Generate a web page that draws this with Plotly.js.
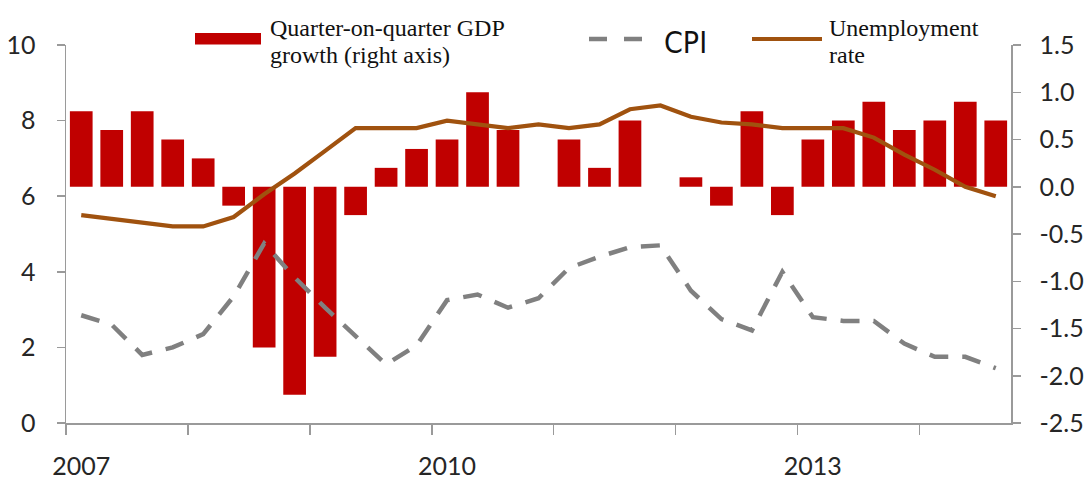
<!DOCTYPE html>
<html>
<head>
<meta charset="utf-8">
<script src="https://cdn.plot.ly/plotly-3.0.1.min.js"></script>
<style>
html,body{margin:0;padding:0;background:#ffffff;}
#chart{width:1088px;height:480px;}
</style>
</head>
<body>
<div id="chart"></div>
<script>
// ---------------- data ----------------
const quarters = [
  '2007Q1','2007Q2','2007Q3','2007Q4',
  '2008Q1','2008Q2','2008Q3','2008Q4',
  '2009Q1','2009Q2','2009Q3','2009Q4',
  '2010Q1','2010Q2','2010Q3','2010Q4',
  '2011Q1','2011Q2','2011Q3','2011Q4',
  '2012Q1','2012Q2','2012Q3','2012Q4',
  '2013Q1','2013Q2','2013Q3','2013Q4',
  '2014Q1','2014Q2','2014Q3'
];
// quarter-on-quarter GDP growth, % (right axis)
const gdpGrowth = [
  0.8, 0.6, 0.8, 0.5,
  0.3, -0.2, -1.7, -2.2,
  -1.8, -0.3, 0.2, 0.4,
  0.5, 1.0, 0.6, 0.0,
  0.5, 0.2, 0.7, 0.0,
  0.1, -0.2, 0.8, -0.3,
  0.5, 0.7, 0.9, 0.6,
  0.7, 0.9, 0.7
];
// CPI, % (left axis)
const cpi = [
  2.85, 2.6, 1.8, 2.0,
  2.35, 3.35, 4.75, 3.85,
  3.05, 2.3, 1.55, 2.05,
  3.25, 3.4, 3.05, 3.3,
  4.1, 4.4, 4.65, 4.7,
  3.5, 2.75, 2.45, 4.0,
  2.8, 2.7, 2.7, 2.1,
  1.75, 1.75, 1.45
];
// Unemployment rate, % (left axis)
const unemployment = [
  5.5, 5.4, 5.3, 5.2,
  5.2, 5.45, 6.05, 6.6,
  7.2, 7.8, 7.8, 7.8,
  8.0, 7.9, 7.8, 7.9,
  7.8, 7.9, 8.3, 8.4,
  8.1, 7.95, 7.9, 7.8,
  7.8, 7.8, 7.55, 7.1,
  6.7, 6.25, 6.0
];
const yearLabels = ['2007', '2010', '2013'];
const leftTickLabels = ['0', '2', '4', '6', '8', '10'];
const rightTickLabels = ['-2.5', '-2.0', '-1.5', '-1.0', '-0.5', '0.0', '0.5', '1.0', '1.5'];
const legendGdp = ['Quarter-on-quarter GDP', 'growth (right axis)'];
const legendCpi = ['CPI'];
const legendUnemp = ['Unemployment', 'rate'];

// ---------------- derived positions ----------------
const xIdx = quarters.map((q, i) => i);
const yearTickVals = yearLabels.map(y => quarters.indexOf(y + 'Q1'));
const yearBoundaries = quarters
  .map((q, i) => (q.endsWith('Q1') ? i - 0.5 : null))
  .filter(v => v !== null);

// plot-area pixel box (for legend placement)
const W = 1088, H = 480;
const PL = 66, PR = 1011, PT = 45, PB = 423;
const px = v => (v - PL) / (PR - PL);
const py = v => (PB - v) / (PB - PT);

const axisColor = '#9a9a9a';
const tickFont = {family: 'Lato, "Open Sans", sans-serif', size: 25, color: '#262626'};
const serif = '"Liberation Serif", "Times New Roman", serif';
const narrow = '"Liberation Sans Narrow", "DejaVu Sans Condensed", "Arial Narrow", sans-serif';

const traces = [
  {
    type: 'bar', name: legendGdp.join(' '),
    x: xIdx, y: gdpGrowth, xaxis: 'x', yaxis: 'y',
    marker: {color: '#C00000', line: {width: 0}},
    hovertext: quarters, hoverinfo: 'text+y', textposition: 'none'
  },
  {
    type: 'scatter', mode: 'lines', name: legendCpi.join(' '),
    x: xIdx, y: cpi, xaxis: 'x', yaxis: 'y2',
    line: {color: '#808080', width: 4.5, dash: '19px,14px'},
    hovertext: quarters, hoverinfo: 'text+y'
  },
  {
    type: 'scatter', mode: 'lines', name: legendUnemp.join(' '),
    x: xIdx, y: unemployment, xaxis: 'x', yaxis: 'y2',
    line: {color: '#A0520F', width: 4.2},
    hovertext: quarters, hoverinfo: 'text+y'
  }
];

const layout = {
  width: W, height: H,
  margin: {l: PL, r: W - PR, t: PT, b: H - PB, pad: 0},
  paper_bgcolor: '#ffffff', plot_bgcolor: '#ffffff',
  showlegend: false,
  bargap: 0.255,
  xaxis: {
    type: 'linear', range: [-0.5, quarters.length - 0.5], fixedrange: true,
    showgrid: false, zeroline: false,
    showline: true, linecolor: axisColor, linewidth: 1.5,
    tickmode: 'array', tickvals: yearTickVals, ticktext: yearLabels,
    ticks: '', tickfont: tickFont, ticklabelstandoff: 20,
    minor: {
      tickmode: 'array', tickvals: yearBoundaries,
      ticks: 'outside', ticklen: 10, tickwidth: 1.5, tickcolor: axisColor, showgrid: false
    }
  },
  yaxis: {
    side: 'right', range: [-2.5, 1.5], fixedrange: true,
    tickmode: 'array', tickvals: rightTickLabels.map(Number), ticktext: rightTickLabels,
    ticks: 'outside', ticklen: 8, tickwidth: 1.5, tickcolor: axisColor,
    showline: true, linecolor: axisColor, linewidth: 1.5,
    showgrid: false, zeroline: false, tickfont: tickFont, ticklabelstandoff: 14
  },
  yaxis2: {
    overlaying: 'y', side: 'left', range: [0, 10], fixedrange: true,
    tickmode: 'array', tickvals: leftTickLabels.map(Number), ticktext: leftTickLabels,
    ticks: 'outside', ticklen: 8, tickwidth: 1.5, tickcolor: axisColor,
    showline: true, linecolor: axisColor, linewidth: 1.5,
    showgrid: false, zeroline: false, tickfont: tickFont, ticklabelstandoff: 16
  },
  shapes: [
    {type: 'rect', xref: 'paper', yref: 'paper',
     x0: px(195), x1: px(261), y0: py(44.5), y1: py(33),
     fillcolor: '#C00000', line: {width: 0}},
    {type: 'line', xref: 'paper', yref: 'paper',
     x0: px(589), x1: px(643), y0: py(39), y1: py(39),
     line: {color: '#808080', width: 4.5, dash: '18px,17px'}},
    {type: 'line', xref: 'paper', yref: 'paper',
     x0: px(752), x1: px(822), y0: py(39), y1: py(39),
     line: {color: '#A0520F', width: 4.2}}
  ],
  annotations: [
    {text: legendGdp[0], x: px(268), y: py(28.4)},
    {text: legendGdp[1], x: px(268), y: py(55.4)},
    {text: legendCpi[0], x: px(662), y: py(42.9), font: {family: narrow, size: 30, color: '#111111'}},
    {text: legendUnemp[0], x: px(827), y: py(28.4)},
    {text: legendUnemp[1], x: px(827), y: py(55.4)}
  ].map(a => Object.assign({
    xref: 'paper', yref: 'paper', xanchor: 'left', yanchor: 'middle',
    showarrow: false, font: {family: serif, size: 24, color: '#111111'}
  }, a))
};

Plotly.newPlot('chart', traces, layout, {staticPlot: true, displayModeBar: false});
</script>
</body>
</html>
